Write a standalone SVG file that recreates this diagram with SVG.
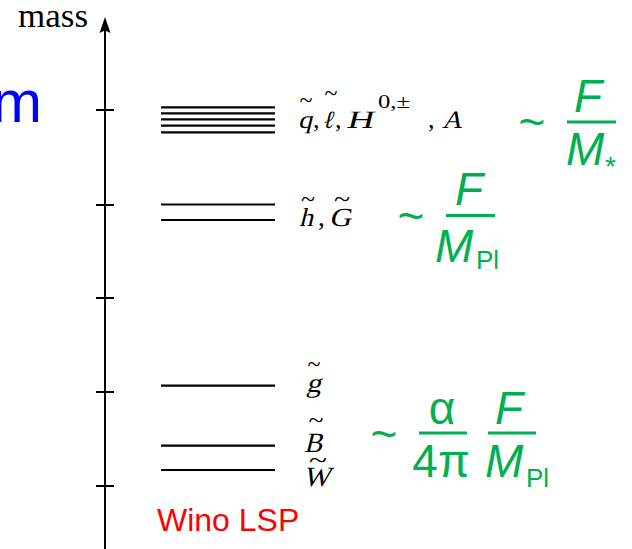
<svg xmlns="http://www.w3.org/2000/svg" width="632" height="549" viewBox="0 0 632 549">
<style>
.ax{stroke:#000;stroke-width:2;fill:none}
.lv{stroke:#000;stroke-width:2.2;fill:none}
.tx{font-family:"Liberation Serif","DejaVu Serif",serif;font-weight:normal;fill:#000}
.td{font-family:"Liberation Serif","DejaVu Serif",serif;font-weight:normal;font-size:26px;fill:#000;text-anchor:middle}
.gr{font-family:"Liberation Sans",Arial,sans-serif;fill:#00b050}
.bar{stroke:#00b050;stroke-width:3}
</style>
<rect width="632" height="549" fill="#fff"/>
<g id="axis">
<line class="ax" x1="105" y1="549" x2="105" y2="28"/>
<polygon points="105,17 110.5,33 105,30.5 99.5,33" fill="#000"/>
<line class="ax" x1="96" y1="110" x2="114" y2="110"/>
<line class="ax" x1="96" y1="205" x2="114" y2="205"/>
<line class="ax" x1="96" y1="298" x2="114" y2="298"/>
<line class="ax" x1="96" y1="392" x2="114" y2="392"/>
<line class="ax" x1="96" y1="486" x2="114" y2="486"/>
<text class="tx" x="18" y="27" font-size="34" textLength="70" lengthAdjust="spacingAndGlyphs">mass</text>
</g>
<text x="42" y="122" font-family="Liberation Sans,Arial,sans-serif" font-size="60" fill="#0000ff" text-anchor="end">m</text>
<g id="level-sfermions">
<line class="lv" x1="161" y1="107.3" x2="275" y2="107.3"/>
<line class="lv" x1="161" y1="113.3" x2="275" y2="113.3"/>
<line class="lv" x1="161" y1="119.3" x2="275" y2="119.3"/>
<line class="lv" x1="161" y1="125.7" x2="275" y2="125.7"/>
<line class="lv" x1="161" y1="132.3" x2="275" y2="132.3"/>
<g transform="translate(298,128) skewX(-14)"><text class="tx" font-size="25" textLength="14" lengthAdjust="spacingAndGlyphs">q</text></g>
<text class="td" x="306" y="108" textLength="13" lengthAdjust="spacingAndGlyphs">~</text>
<text class="tx" x="313" y="128" font-size="26">,</text>
<g transform="translate(322,128) skewX(-14)"><text class="tx" font-size="25" textLength="11" lengthAdjust="spacingAndGlyphs">ℓ</text></g>
<text class="td" x="331" y="101" textLength="13" lengthAdjust="spacingAndGlyphs">~</text>
<text class="tx" x="335" y="128" font-size="26">,</text>
<g transform="translate(346,128) skewX(-14)"><text class="tx" font-size="25" textLength="27" lengthAdjust="spacingAndGlyphs">H</text></g>
<text class="tx" x="378" y="108" font-size="18" textLength="32" lengthAdjust="spacingAndGlyphs">0,±</text>
<text class="tx" x="428" y="128" font-size="26">,</text>
<g transform="translate(442,128) skewX(-14)"><text class="tx" font-size="25" textLength="20" lengthAdjust="spacingAndGlyphs">A</text></g>
</g>
<g id="level-higgsino-gravitino">
<line class="lv" x1="161" y1="204.5" x2="275" y2="204.5"/>
<line class="lv" x1="161" y1="220" x2="275" y2="220"/>
<g transform="translate(299,226) skewX(-14)"><text class="tx" font-size="26" textLength="14" lengthAdjust="spacingAndGlyphs">h</text></g>
<text class="td" x="308" y="207" textLength="14" lengthAdjust="spacingAndGlyphs">~</text>
<text class="tx" x="318" y="226" font-size="27">,</text>
<g transform="translate(329,226) skewX(-14)"><text class="tx" font-size="26" textLength="22" lengthAdjust="spacingAndGlyphs">G</text></g>
<text class="td" x="342" y="207" textLength="16" lengthAdjust="spacingAndGlyphs">~</text>
</g>
<g id="level-gluino">
<line class="lv" x1="161" y1="385.7" x2="275" y2="385.7"/>
<g transform="translate(306,392) skewX(-14)"><text class="tx" font-size="27" textLength="15" lengthAdjust="spacingAndGlyphs">g</text></g>
<text class="td" x="314" y="372" textLength="13" lengthAdjust="spacingAndGlyphs">~</text>
</g>
<g id="level-bino">
<line class="lv" x1="161" y1="445.7" x2="275" y2="445.7"/>
<g transform="translate(304,452) skewX(-14)"><text class="tx" font-size="28" textLength="18" lengthAdjust="spacingAndGlyphs">B</text></g>
<text class="td" x="316" y="428" textLength="15" lengthAdjust="spacingAndGlyphs">~</text>
</g>
<g id="level-wino">
<line class="lv" x1="161" y1="470" x2="275" y2="470" stroke-width="2.6"/>
<g transform="translate(303,486) skewX(-14)"><text class="tx" font-size="28" textLength="27" lengthAdjust="spacingAndGlyphs">W</text></g>
<text class="td" x="318" y="468" textLength="18" lengthAdjust="spacingAndGlyphs">~</text>
<text x="157" y="531" font-family="Liberation Sans,Arial,sans-serif" font-size="32" fill="#ff0000">Wino LSP</text>
</g>
<g id="formula-Mstar">
<text class="gr" x="532" y="138" font-size="46" text-anchor="middle">~</text>
<line class="bar" x1="567" y1="122" x2="616" y2="122"/>
<text class="gr" x="574" y="112" font-size="46" font-style="italic">F</text>
<text class="gr" x="566" y="165" font-size="46" font-style="italic">M</text>
<text class="gr" x="605" y="176" font-size="28">*</text>
</g>
<g id="formula-MPl-1">
<line class="bar" x1="446" y1="215.5" x2="495" y2="215.5"/>
<text class="gr" x="411" y="232" font-size="46" text-anchor="middle">~</text>
<text class="gr" x="455" y="205" font-size="46" font-style="italic">F</text>
<text class="gr" x="435" y="262" font-size="46" font-style="italic">M</text>
<text class="gr" x="476" y="269" font-size="26">Pl</text>
</g>
<g id="formula-MPl-2">
<text class="gr" x="384" y="450" font-size="46" text-anchor="middle">~</text>
<line class="bar" x1="419" y1="433" x2="467" y2="433"/>
<text class="gr" x="442" y="424" font-size="46" text-anchor="middle" font-family="Liberation Serif,serif">α</text>
<text class="gr" x="441" y="477" font-size="46" text-anchor="middle">4π</text>
<line class="bar" x1="488" y1="433" x2="536" y2="433"/>
<text class="gr" x="495" y="424" font-size="46" font-style="italic">F</text>
<text class="gr" x="485" y="477" font-size="46" font-style="italic">M</text>
<text class="gr" x="526" y="487" font-size="26">Pl</text>
</g>
</svg>
